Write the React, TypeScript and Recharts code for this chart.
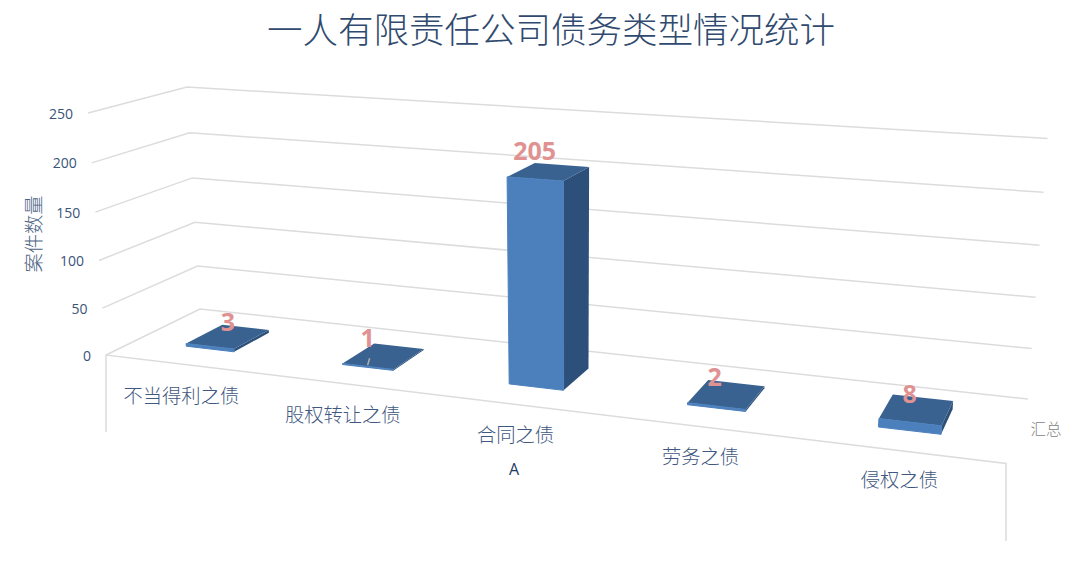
import React from 'react';
import { BarChart, Bar, XAxis, YAxis, CartesianGrid, LabelList } from 'recharts';

const CATEGORIES = ['不当得利之债', '股权转让之债', '合同之债', '劳务之债', '侵权之债'];
const CASES = [3, 1, 205, 2, 8];
const Y_TICKS = [0, 50, 100, 150, 200, 250];

const chartData = CATEGORIES.map((name, i) => ({ name, cases: CASES[i] }));

const WIDTH = 1080;
const HEIGHT = 565;
const AXIS_SIZE = 1;
const MARGIN = { top: 100, right: 100, bottom: 100 - AXIS_SIZE, left: 100 - AXIS_SIZE };
const PLOT_LEFT = 100;
const PLOT_W = WIDTH - 200;
const PLOT_H = HEIGHT - 200;
const PLOT_BOTTOM = HEIGHT - 100;

const CJK = '"Noto Sans CJK SC", "Noto Sans", sans-serif';
const LATIN = '"Open Sans", sans-serif';

// the tilted box: floor and ceiling of the 3D plot as they land on the screen
type Pt = [number, number];
const FLOOR: Pt[] = [[106, 355], [1006, 463.5], [1028, 399], [200, 309]];
const CEILING: Pt[] = [[88, 113], [1026, 175.5], [1047.5, 138.5], [187, 87]];
const DEPTH_FRONT = 0.3;
const DEPTH_BACK = 0.7;
const BAR_NUDGE = -0.0015;
const LABEL_DX = [0, -16, -14, -12, -7];
const LABEL_DY = [0, -3, -6, -2, -1];

function makeQuad(p: Pt[]) {
    const [[x0, y0], [x1, y1], [x2, y2], [x3, y3]] = p;
    const dx1 = x1 - x2, dx2 = x3 - x2, sx = x0 - x1 + x2 - x3;
    const dy1 = y1 - y2, dy2 = y3 - y2, sy = y0 - y1 + y2 - y3;
    const det = dx1 * dy2 - dx2 * dy1;
    const g = (sx * dy2 - dx2 * sy) / det;
    const h = (dx1 * sy - sx * dy1) / det;
    const a = x1 - x0 + g * x1, b = x3 - x0 + h * x3;
    const d = y1 - y0 + g * y1, e = y3 - y0 + h * y3;
    return (u: number, v: number): Pt => {
        const w = g * u + h * v + 1;
        return [(a * u + b * v + x0) / w, (d * u + e * v + y0) / w];
    };
}
const floorAt = makeQuad(FLOOR);
const ceilingAt = makeQuad(CEILING);

// u, depth in 0..1, level in 0..1 of the value axis
function project(u: number, depth: number, level: number): Pt {
    const t = level / (1 + 0.04 * (1 - level));
    const f = floorAt(u, depth);
    const c = ceilingAt(u, depth);
    return [f[0] + (c[0] - f[0]) * t, f[1] + (c[1] - f[1]) * t];
}

const toU = (x: number) => (x - PLOT_LEFT) / PLOT_W;
const toLevel = (y: number) => (PLOT_BOTTOM - y) / PLOT_H;
const poly = (pts: Pt[]) => pts.map((p) => p.map((n) => n.toFixed(1)).join(',')).join(' ');

function GridLine(props: any) {
    const level = toLevel(props.y1);
    const wall = [project(0, 0, level), project(0, 1, level), project(1, 1, level)];
    const isFloor = level < 0.001;
    return (
        <g key={props.key}>
            <polyline points={poly(wall)} fill="none" stroke="#dcdcdc" strokeWidth={1.5} />
            {isFloor && (
                <polyline
                    points={poly([[106, 432], FLOOR[0], FLOOR[1], [1006, 541]])}
                    fill="none"
                    stroke="#dcdcdc"
                    strokeWidth={1.5}
                />
            )}
        </g>
    );
}

function Box3D(props: any) {
    const { x, y, width, height } = props;
    const u0 = toU(x) + BAR_NUDGE;
    const u1 = toU(x + width) + BAR_NUDGE;
    const top = toLevel(y);
    const base = toLevel(y + height);
    const P = (u: number, d: number, l: number) => project(u, d, l);
    return (
        <g>
            <polygon
                points={poly([P(u1, DEPTH_FRONT, base), P(u1, DEPTH_BACK, base), P(u1, DEPTH_BACK, top), P(u1, DEPTH_FRONT, top)])}
                fill="#2c5079"
            />
            <polygon
                points={poly([P(u0, DEPTH_FRONT, top), P(u1, DEPTH_FRONT, top), P(u1, DEPTH_BACK, top), P(u0, DEPTH_BACK, top)])}
                fill="#3a6291"
            />
            <polygon
                points={poly([P(u0, DEPTH_FRONT, base), P(u1, DEPTH_FRONT, base), P(u1, DEPTH_FRONT, top), P(u0, DEPTH_FRONT, top)])}
                fill="#4c80bd"
                stroke="#4c80bd"
                strokeWidth={1}
            />
        </g>
    );
}

function BarValue(props: any) {
    const { x, y, width, value, index } = props;
    const u = toU(x + width / 2) + BAR_NUDGE;
    const [px, py] = project(u, 0.5, toLevel(y));
    const lx = px + LABEL_DX[index];
    return (
        <g>
            {value === 1 && <line x1={lx + 2} y1={py + 2} x2={lx} y2={py + 9} stroke="#b0b0b0" strokeWidth={1.5} />}
            <text x={lx} y={py - 16 + LABEL_DY[index]} textAnchor="middle" dominantBaseline="central" fontFamily={LATIN} fontWeight={700} fontSize={25} fill="#e09292">
                {value}
            </text>
        </g>
    );
}

function CategoryTick(props: any) {
    const u = toU(props.x);
    const [px, py] = project(u, 0, 0);
    return (
        <text x={px - 1.5} y={py + 31.5 - 3.5 * u} textAnchor="middle" dominantBaseline="central" fontFamily={CJK} fontWeight={300} fontSize={19.3} fill="#3f5880">
            {props.payload.value}
        </text>
    );
}

function ValueTick(props: any) {
    const [px, py] = project(0, 0, toLevel(props.y));
    return (
        <text x={px - 15} y={py} textAnchor="end" dominantBaseline="central" fontFamily={LATIN} fontSize={14} fill="#3a5478">
            {props.payload.value}
        </text>
    );
}

export default function App() {
    return (
        <div style={{ position: 'absolute', left: 0, top: 0, width: WIDTH, height: HEIGHT, background: '#fff' }}>
            <BarChart width={WIDTH} height={HEIGHT} data={chartData} margin={MARGIN} barCategoryGap="34.375%">
                <CartesianGrid vertical={false} horizontal={GridLine} />
                <XAxis dataKey="name" height={AXIS_SIZE} axisLine={false} tickLine={false} tick={CategoryTick} interval={0} />
                <YAxis width={AXIS_SIZE} domain={[0, 250]} ticks={Y_TICKS} axisLine={false} tickLine={false} tick={ValueTick} />
                <Bar dataKey="cases" shape={Box3D} isAnimationActive={false}>
                    <LabelList dataKey="cases" content={BarValue} />
                </Bar>
                <text x={551} y={27} textAnchor="middle" dominantBaseline="central" fontFamily={CJK} fontWeight={300} fontSize={35.5} fill="#2f4a6e">
                    一人有限责任公司债务类型情况统计
                </text>
                <text transform="translate(33 234) rotate(-90)" textAnchor="middle" dominantBaseline="central" fontFamily={CJK} fontWeight={300} fontSize={19.3} fill="#4d6585">
                    案件数量
                </text>
                <text x={514} y={469} textAnchor="middle" dominantBaseline="central" fontFamily={LATIN} fontSize={16} fill="#1f3a64">
                    A
                </text>
                <text x={1046} y={428} textAnchor="middle" dominantBaseline="central" fontFamily={CJK} fontWeight={300} fontSize={15.5} fill="#7f7f7f">
                    汇总
                </text>
            </BarChart>
        </div>
    );
}
